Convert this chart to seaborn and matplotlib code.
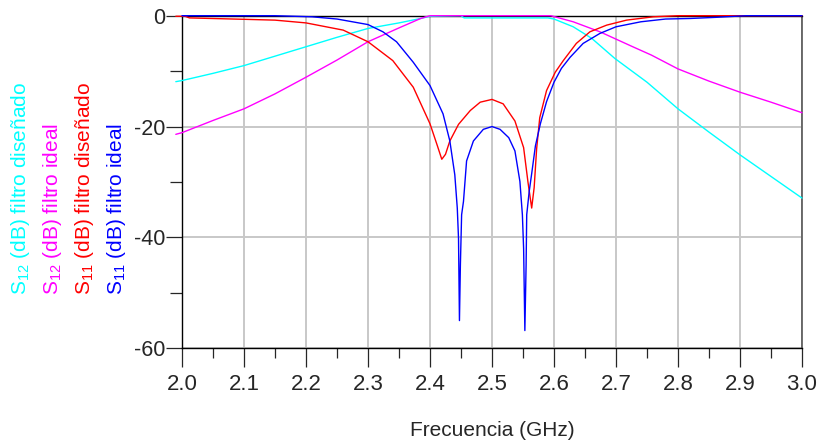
import numpy as np
import matplotlib
matplotlib.use('Agg')
import matplotlib.pyplot as plt
import seaborn as sns

# S12 (dB) filtro diseñado - cyan
f_s12_dis = [1.99, 2.0, 2.05, 2.1, 2.15, 2.2, 2.25, 2.3, 2.35, 2.385, 2.40, 2.45, 2.455, 2.59, 2.60,
             2.631, 2.661, 2.698, 2.75, 2.8, 2.85, 2.9, 2.95, 3.0]
s12_dis = [-11.9, -11.7, -10.4, -9.0, -7.3, -5.6, -3.9, -2.3, -1.3, -0.5, -0.1, 0.0, -0.4, -0.4, -0.6,
           -2.0, -4.1, -7.7, -12.0, -16.8, -21.0, -25.1, -29.0, -32.9]

# S12 (dB) filtro ideal - magenta
f_s12_id = [1.99, 2.0, 2.05, 2.1, 2.15, 2.2, 2.25, 2.3, 2.35, 2.385, 2.40, 2.595, 2.631, 2.674,
            2.727, 2.757, 2.8, 2.85, 2.9, 2.95, 3.0]
s12_id = [-21.4, -21.1, -18.9, -16.8, -14.1, -11.1, -8.0, -4.7, -2.2, -0.5, 0.0, 0.0, -1.1, -2.9,
          -5.6, -7.1, -9.6, -11.8, -13.8, -15.6, -17.5]

# S11 (dB) filtro diseñado - red
f_s11_dis = [1.99, 2.005, 2.012, 2.1, 2.15, 2.2, 2.26, 2.3, 2.34, 2.373, 2.40, 2.412, 2.419, 2.425,
             2.432, 2.446, 2.465, 2.481, 2.50, 2.518, 2.537, 2.551, 2.558, 2.564, 2.568, 2.572,
             2.577, 2.588, 2.602, 2.615, 2.636, 2.658, 2.685, 2.717, 2.76, 2.8, 3.0]
s11_dis = [-0.1, -0.1, -0.4, -0.65, -0.8, -1.3, -2.6, -4.7, -8.1, -12.9, -19.5, -23.5, -25.9, -25.0,
           -22.6, -19.6, -17.1, -15.6, -15.1, -15.9, -19.0, -23.8, -30.0, -34.7, -31.0, -24.0,
           -18.4, -13.5, -10.2, -8.1, -5.0, -2.9, -1.7, -0.8, -0.2, 0.0, 0.0]

# S11 (dB) filtro ideal - blue
f_s11_id = [2.0, 2.15, 2.21, 2.25, 2.28, 2.30, 2.324, 2.346, 2.373, 2.40, 2.421, 2.432, 2.44, 2.444,
            2.446, 2.4475, 2.449, 2.451, 2.454, 2.459, 2.47, 2.486, 2.50, 2.513, 2.527, 2.537,
            2.545, 2.549, 2.551, 2.553, 2.555, 2.556, 2.560, 2.564, 2.570, 2.578, 2.588, 2.60,
            2.612, 2.626, 2.647, 2.674, 2.70, 2.74, 2.78, 2.82, 2.86, 2.91, 3.0]
s11_id = [0.0, 0.0, -0.2, -0.6, -1.2, -1.6, -2.9, -4.7, -8.4, -12.6, -17.7, -22.6, -28.7, -34.7,
          -40.2, -55.0, -45.0, -35.9, -33.5, -26.2, -22.6, -20.5, -20.0, -20.5, -22.0, -24.4,
          -29.9, -35.9, -42.0, -56.8, -45.0, -35.9, -31.7, -28.5, -23.5, -19.5, -15.5, -12.0,
          -9.5, -7.5, -5.0, -3.2, -2.0, -1.1, -0.6, -0.5, -0.3, 0.0, 0.0]

labels = ['S$_{\\mathregular{12}}$ (dB) filtro diseñado',
          'S$_{\\mathregular{12}}$ (dB) filtro ideal',
          'S$_{\\mathregular{11}}$ (dB) filtro diseñado',
          'S$_{\\mathregular{11}}$ (dB) filtro ideal']
colors = ['#00ffff', '#ff00ff', '#ff0000', '#0000ff']

sns.set_style('white')
plt.rcParams['font.family'] = ['Liberation Sans', 'DejaVu Sans']
plt.rcParams['mathtext.fontset'] = 'custom'
plt.rcParams['mathtext.rm'] = 'Liberation Sans'
plt.rcParams['mathtext.it'] = 'Liberation Sans:italic'
plt.rcParams['axes.unicode_minus'] = False

fig = plt.figure(figsize=(8.28, 4.43), dpi=100)
ax = fig.add_axes([182 / 828, 1 - 348.3 / 443, 620 / 828, 332.6 / 443])

series = [(f_s12_dis, s12_dis), (f_s12_id, s12_id), (f_s11_dis, s11_dis), (f_s11_id, s11_id)]
for (fx, fy), c in zip(series, colors):
    sns.lineplot(x=fx, y=fy, color=c, linewidth=1.0, estimator=None, sort=False, ax=ax)
for ln in ax.lines:
    ln.set_clip_on(False)
    ln.set_zorder(3)

ax.set_xlim(2.0, 3.0)
ax.set_ylim(-60, 0)
ax.set_xticks(np.arange(2.0, 3.01, 0.1))
ax.set_xticklabels([f'{v:.1f}' for v in np.arange(2.0, 3.01, 0.1)], fontsize=16)
ax.set_xticks(np.arange(2.05, 3.0, 0.1), minor=True)
ax.set_yticks([0, -20, -40, -60])
ax.set_yticklabels(['0', '-20', '-40', '-60'], fontsize=15.5)
ax.set_yticks([-10, -30, -50], minor=True)

ax.tick_params(axis='x', which='major', direction='out', length=13.5, width=0.9, pad=5, bottom=True)
ax.tick_params(axis='x', which='minor', direction='out', length=7, width=0.9, bottom=True)
ax.tick_params(axis='y', which='major', direction='out', length=11.5, width=0.9, pad=0.5, left=True)
ax.tick_params(axis='y', which='minor', direction='out', length=8.5, width=0.9, left=True)

ax.grid(True, which='major', color='#c8c8c8', linewidth=1.4)
ax.set_axisbelow(True)

for side in ['left', 'bottom', 'top']:
    ax.spines[side].set_color('black')
    ax.spines[side].set_linewidth(1.0)
ax.spines['right'].set_color('#555555')
ax.spines['right'].set_linewidth(1.2)

ax.set_xlabel('Frecuencia (GHz)', fontsize=15, labelpad=19)
ax.set_ylabel('')

xs = [21, 53, 85, 116]
for x, lab, c in zip(xs, labels, colors):
    fig.text(x / 828, 1 - 295 / 443, lab, rotation=90, color=c, fontsize=15,
             ha='center', va='bottom', rotation_mode='default')

plt.savefig('out.png', dpi=100)
